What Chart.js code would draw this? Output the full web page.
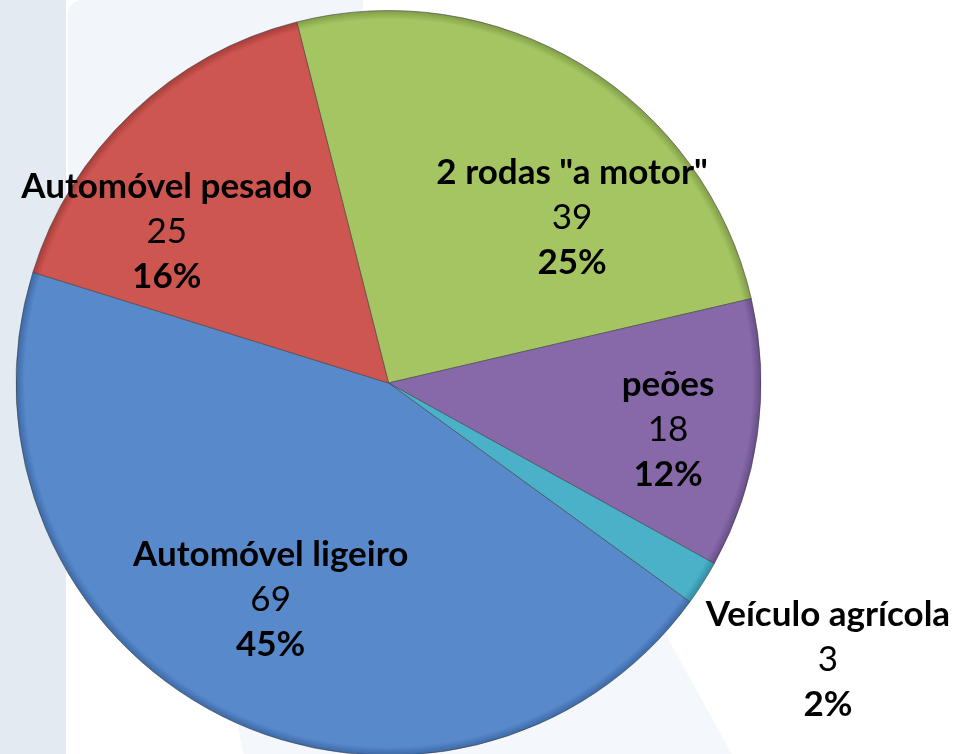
<!DOCTYPE html>
<html>
<head>
<meta charset="utf-8">
<script src="https://cdn.jsdelivr.net/npm/chart.js@4.4.1/dist/chart.umd.min.js"></script>
<style>
    html, body { margin: 0; padding: 0; background: #ffffff; overflow: hidden; }
    #wrap { position: relative; width: 954px; height: 760px; }
    .bg { position: absolute; }
    #strip { left: 0; top: 0; width: 66px; height: 760px; background: #E4EAF1; }
    #panel { left: 68px; top: 0; width: 295px; height: 430px; background: #F2F5FA; border-top-left-radius: 14px; }
    #wedge { left: 0; top: 0; width: 954px; height: 760px; background: #F4F7FB;
             clip-path: polygon(228px 680px, 655px 615px, 735px 760px, 245px 760px); }
    canvas { position: absolute; left: 0; top: 0; }
</style>
</head>
<body>
<div id="wrap">
    <div class="bg" id="strip"></div>
    <div class="bg" id="panel"></div>
    <div class="bg" id="wedge"></div>
    <canvas id="pie-chart" width="954" height="760"></canvas>
</div>
<script>
// Данни
const categories = ['2 rodas "a motor"', 'peões', 'Veículo agrícola', 'Automóvel ligeiro', 'Automóvel pesado'];
const counts = [39, 18, 3, 69, 25];

// Стил
const sliceColors = ['#A4C562', '#8769A9', '#4AB1C9', '#5889CB', '#CE5651'];
const edgeColors  = ['#7E9A45', '#654C86', '#2F8BA0', '#3B67A3', '#A33C38'];
// позиция на етикета: r = част от радиуса, da = отместване от средния ъгъл (градуси)
const labelPlacement = [
    { r: 0.664, da: 16.6 },
    { r: 0.761, da: 1.6 },
    { r: 1.394, da: -0.3 },
    { r: 0.662, da: 1.9 },
    { r: 0.720, da: -12.3 }
];
const fontFamily = 'Lato, "Open Sans", sans-serif';
const fontSize = 35;
const lineGap = 45;

const total = counts.reduce((a, b) => a + b, 0);
const percentLabels = counts.map(v => Math.round(v / total * 100) + '%');

function sliceFill(ctx) {
    const chart = ctx.chart;
    const area = chart.chartArea;
    const i = ctx.dataIndex;
    if (!area) return sliceColors[i];
    const cx = (area.left + area.right) / 2;
    const cy = (area.top + area.bottom) / 2;
    const r = Math.min(area.right - area.left, area.bottom - area.top) / 2;
    const g = chart.ctx.createRadialGradient(cx, cy, 0, cx, cy, r);
    g.addColorStop(0, sliceColors[i]);
    g.addColorStop(0.975, sliceColors[i]);
    g.addColorStop(1, edgeColors[i]);
    return g;
}

const pieLabels = {
    id: 'pieLabels',
    afterDatasetsDraw(chart) {
        const ctx = chart.ctx;
        const meta = chart.getDatasetMeta(0);
        ctx.save();
        ctx.fillStyle = '#000000';
        ctx.textAlign = 'center';
        ctx.textBaseline = 'middle';
        meta.data.forEach((arc, i) => {
            const p = labelPlacement[i];
            const mid = (arc.startAngle + arc.endAngle) / 2 + p.da * Math.PI / 180;
            const x = arc.x + Math.cos(mid) * arc.outerRadius * p.r;
            const y = arc.y + Math.sin(mid) * arc.outerRadius * p.r;
            ctx.font = 'bold ' + fontSize + 'px ' + fontFamily;
            ctx.fillText(categories[i], x, y - lineGap);
            ctx.font = fontSize + 'px ' + fontFamily;
            ctx.fillText(String(counts[i]), x, y);
            ctx.font = 'bold ' + fontSize + 'px ' + fontFamily;
            ctx.fillText(percentLabels[i], x, y + lineGap);
        });
        ctx.restore();
    }
};

new Chart(document.getElementById('pie-chart'), {
    type: 'pie',
    data: {
        labels: categories,
        datasets: [{
            data: counts,
            backgroundColor: sliceFill,
            borderColor: 'rgba(60, 60, 60, 0.55)',
            borderWidth: 1
        }]
    },
    options: {
        responsive: false,
        animation: false,
        rotation: -14.26,
        layout: { padding: { left: 15, right: 192, top: 10, bottom: 4 } },
        plugins: {
            legend: { display: false },
            tooltip: { enabled: false }
        }
    },
    plugins: [pieLabels]
});
</script>
</body>
</html>
